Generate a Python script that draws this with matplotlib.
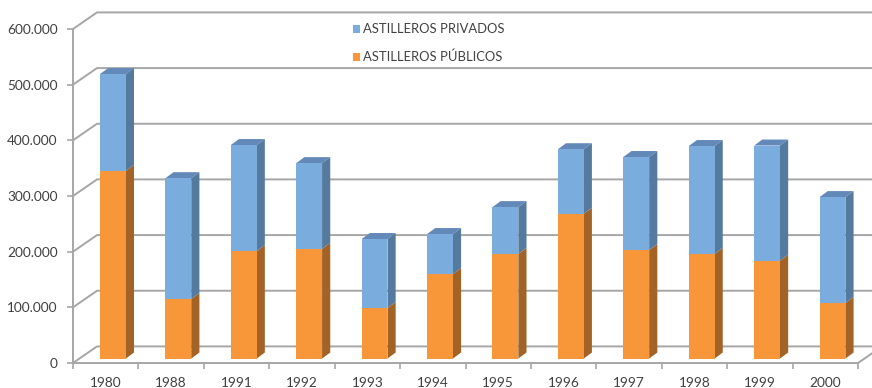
import matplotlib
matplotlib.use("Agg")
import matplotlib.pyplot as plt
from matplotlib.patches import Patch, Polygon

plt.rcParams["font.family"] = ["Lato", "DejaVu Sans"]

years = ["1980", "1988", "1991", "1992", "1993", "1994",
         "1995", "1996", "1997", "1998", "1999", "2000"]
publicos = [337000, 107000, 193000, 197000, 91000, 152000,
            188000, 260000, 195000, 188000, 176000, 100000]
totales = [511000, 324000, 383500, 351000, 214700, 223600,
           272000, 376000, 362000, 381700, 382600, 290000]
privados = [t - p for t, p in zip(totales, publicos)]
y_ticks = [0, 100000, 200000, 300000, 400000, 500000, 600000]
y_labels = ["0", "100.000", "200.000", "300.000", "400.000", "500.000", "600.000"]

W, H = 872, 388
fig = plt.figure(figsize=(W / 100, H / 100), dpi=100, facecolor="white")
ax = fig.add_axes([73 / W, (H - 363) / H, 785 / W, 334 / H])
ax.set_xlim(0, len(years))
ax.set_ylim(0, 600000)

# Oblique projection of the depth axis, in data units
WALL_DX, WALL_DY = 0.367, 29800
BAR_DX, BAR_DY = 0.125, 10800
FRONT_DX, FRONT_DY = 0.11, 8000
BAR_W = 0.395

GRID = "#A6A6A6"
BLUE, BLUE_SIDE, BLUE_TOP = "#7AADDD", "#557A9F", "#6389B8"
ORANGE, ORANGE_SIDE = "#F79739", "#A46326"

# Back wall gridlines and the receding lines on the left side wall
for v in y_ticks:
    ax.plot([0, WALL_DX, len(years) + WALL_DX], [v, v + WALL_DY, v + WALL_DY],
            color=GRID, lw=1.4, clip_on=False, zorder=1, solid_joinstyle="miter")
# Floor edge on the right
ax.plot([len(years), len(years) + WALL_DX], [0, WALL_DY],
        color=GRID, lw=1.4, clip_on=False, zorder=1)


def add_block(x0, x1, y0, y1, front, side, top=None):
    """Draw one stacked block as a front face, a side face and an optional top."""
    if top is not None:
        ax.add_patch(Polygon([(x0, y1), (x1, y1), (x1 + BAR_DX, y1 + BAR_DY),
                              (x0 + BAR_DX, y1 + BAR_DY)],
                             fc=top, ec="none", clip_on=False, zorder=3))
    ax.add_patch(Polygon([(x1, y0), (x1 + BAR_DX, y0 + BAR_DY),
                          (x1 + BAR_DX, y1 + BAR_DY), (x1, y1)],
                         fc=side, ec="none", clip_on=False, zorder=3))
    ax.add_patch(Polygon([(x0, y0), (x1, y0), (x1, y1), (x0, y1)],
                         fc=front, ec="none", clip_on=False, zorder=4))


for i, (pub, priv) in enumerate(zip(publicos, privados)):
    x0 = i + 0.5 + FRONT_DX - BAR_W / 2
    x1 = x0 + BAR_W
    base = FRONT_DY
    add_block(x0, x1, base, base + pub, ORANGE, ORANGE_SIDE)
    add_block(x0, x1, base + pub, base + pub + priv, BLUE, BLUE_SIDE, BLUE_TOP)

for name in ("top", "right"):
    ax.spines[name].set_visible(False)
for name in ("left", "bottom"):
    ax.spines[name].set_color(GRID)
    ax.spines[name].set_linewidth(1.4)
ax.patch.set_alpha(0)

ax.set_yticks(y_ticks, y_labels)
ax.set_xticks(range(len(years) + 1))
ax.set_xticklabels([])
ax.set_xticks([i + 0.5 for i in range(len(years))], years, minor=True)
ax.tick_params(axis="y", length=4, width=1.2, color=GRID, labelsize=9.8,
               labelcolor="#404040", pad=7)
ax.tick_params(axis="x", which="major", length=4, width=1.2, color=GRID)
ax.tick_params(axis="x", which="minor", length=0, labelsize=9.8,
               labelcolor="#404040", pad=10)

handles = [Patch(fc=BLUE, ec="none", label="ASTILLEROS PRIVADOS"),
           Patch(fc=ORANGE, ec="none", label="ASTILLEROS PÚBLICOS")]
ax.legend(handles=handles, loc="upper left", bbox_to_anchor=(277 / 785, 1.025),
          frameon=False, fontsize=9.4, labelcolor="#404040",
          handlelength=0.55, handleheight=0.55, handletextpad=0.23,
          labelspacing=1.2, borderaxespad=0, borderpad=0.2)

fig.savefig("out.png", dpi=100)
